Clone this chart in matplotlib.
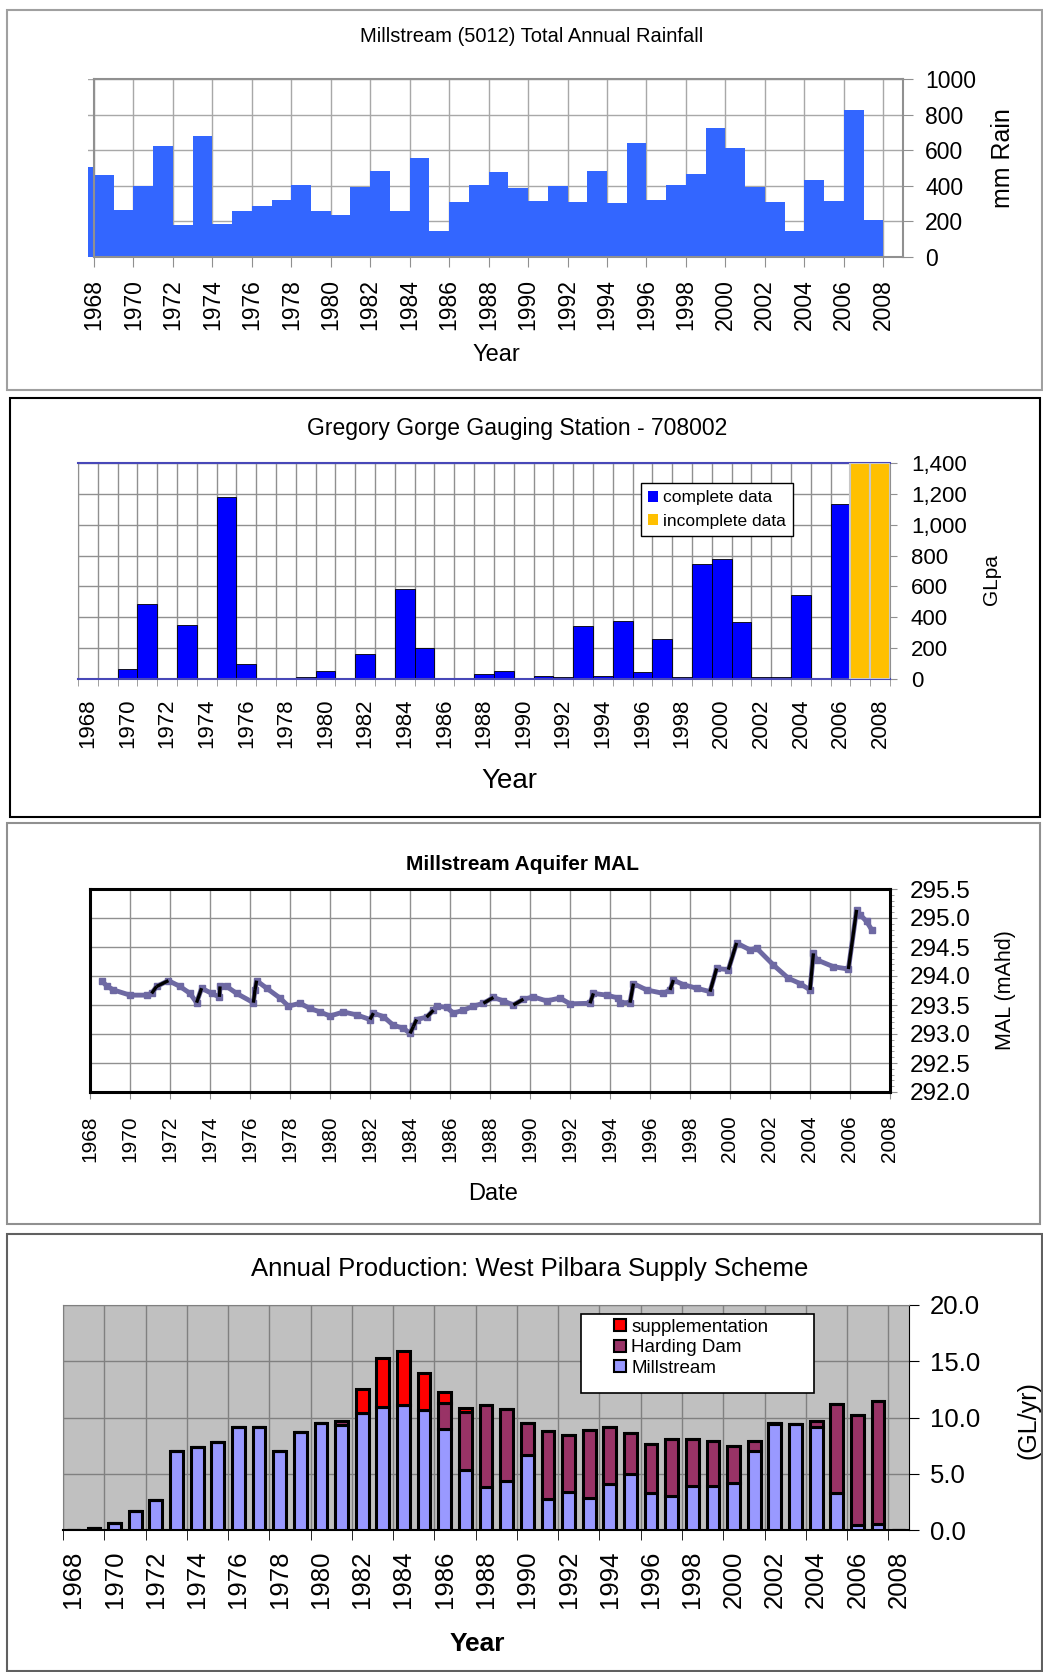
import numpy as np
import matplotlib
matplotlib.use('Agg')
from matplotlib import pyplot as plt
from matplotlib import font_manager
from matplotlib.patches import Rectangle, Patch
from matplotlib.collections import LineCollection
from matplotlib.ticker import FuncFormatter, MultipleLocator

plt.rcParams['font.family'] = ['Liberation Sans', 'DejaVu Sans']

# ---- Millstream (5012) total annual rainfall, mm (first value is the 1967 sliver)
rain_years = list(range(1967, 2008))
rain_mm = [507, 460, 265, 400, 625, 178, 677, 184, 257, 287, 319, 407, 257, 238, 394, 484,
           257, 557, 148, 311, 407, 475, 385, 317, 400, 311, 484, 304, 642, 319, 407, 467,
           722, 610, 394, 311, 148, 432, 317, 826, 206]

# ---- Gregory Gorge gauging station 708002, GLpa
flow_years = list(range(1968, 2009))
flow_gl = [0, 0, 65, 485, 5, 349, 0, 1180, 97, 5, 0, 13, 50, 0, 164, 0, 585, 203, 0, 0,
           32, 50, 0, 22, 13, 343, 22, 373, 47, 259, 13, 746, 779, 371, 13, 13, 544, 5,
           1137, 1400, 1400]
flow_complete = [True] * 39 + [False, False]

# ---- Millstream aquifer MAL, mAHD
mal_date = [1968.58, 1968.83, 1969.17, 1970.0, 1970.83, 1971.08, 1971.33, 1971.92, 1972.5,
            1973.0, 1973.33, 1973.58, 1974.08, 1974.47, 1974.5, 1974.83, 1975.33, 1976.17,
            1976.25, 1976.33, 1976.83, 1977.5, 1977.92, 1978.5, 1979.0, 1979.5, 1980.0,
            1980.67, 1981.33, 1982.0, 1982.17, 1982.67, 1983.17, 1983.67, 1984.0, 1984.17,
            1984.33, 1984.83, 1985.17, 1985.33, 1985.83, 1986.17, 1986.67, 1987.17, 1987.67,
            1988.17, 1988.67, 1989.17, 1989.67, 1990.17, 1990.83, 1991.5, 1992.0, 1993.0,
            1993.17, 1993.83, 1994.42, 1994.5, 1995.0, 1995.17, 1995.83, 1996.67, 1997.0,
            1997.17, 1997.67, 1998.33, 1999.0, 1999.33, 1999.92, 2000.33, 2001.0, 2001.33,
            2002.17, 2002.92, 2003.5, 2004.0, 2004.17, 2004.33, 2005.17, 2005.92, 2006.33,
            2006.5, 2006.83, 2007.08]
mal_level = [293.92, 293.83, 293.76, 293.67, 293.67, 293.70, 293.82, 293.92, 293.82,
             293.70, 293.54, 293.79, 293.70, 293.64, 293.82, 293.82, 293.70, 293.54,
             293.76, 293.92, 293.79, 293.62, 293.48, 293.53, 293.44, 293.38, 293.31,
             293.38, 293.33, 293.25, 293.36, 293.30, 293.15, 293.10, 293.01, 293.13,
             293.25, 293.29, 293.41, 293.48, 293.46, 293.36, 293.41, 293.48, 293.53,
             293.63, 293.57, 293.50, 293.60, 293.64, 293.57, 293.62, 293.52, 293.53,
             293.70, 293.67, 293.62, 293.54, 293.54, 293.87, 293.76, 293.70, 293.76,
             293.93, 293.85, 293.79, 293.73, 294.13, 294.11, 294.57, 294.45, 294.48,
             294.19, 293.96, 293.87, 293.76, 294.39, 294.28, 294.16, 294.12, 295.14,
             295.06, 294.94, 294.80]

# ---- Annual production, West Pilbara supply scheme, GL/yr
prod_years = list(range(1968, 2009))
millstream = [0, 0.18, 0.62, 1.72, 2.67, 7.02, 7.35, 7.85, 9.19, 9.19, 6.99, 8.68, 9.54,
              9.33, 10.37, 10.96, 11.11, 10.67, 8.95, 5.33, 3.85, 4.39, 6.67, 2.73, 3.41,
              2.87, 4.06, 4.95, 3.26, 3.02, 3.91, 3.91, 4.21, 7.05, 9.39, 9.39, 9.19,
              3.26, 0.44, 0.50, 0]
harding = [0, 0, 0, 0, 0, 0, 0, 0, 0, 0, 0, 0, 0, 0.36, 0, 0, 0, 0, 2.37, 5.19, 7.26, 6.37,
           2.87, 6.07, 5.03, 6.02, 5.13, 3.70, 4.35, 5.04, 4.15, 4.00, 3.26, 0.89, 0.15,
           0, 0.50, 7.94, 9.78, 10.97, 0]
supplementation = [0, 0, 0, 0, 0, 0, 0, 0, 0, 0, 0, 0, 0, 0, 2.16, 4.36, 4.80, 3.32, 0.98,
                   0.30, 0, 0, 0, 0, 0, 0, 0, 0, 0, 0, 0, 0, 0, 0, 0, 0, 0, 0, 0, 0, 0]

W, H = 1043, 1672
fig = plt.figure(figsize=(W / 100, H / 100), dpi=100)
fig.patch.set_facecolor('white')

installed = {f.name for f in font_manager.fontManager.ttflist}
has_narrow = 'Liberation Sans Narrow' in installed


def rect(l, t, r, b):
    return [l / W, 1 - b / H, (r - l) / W, (b - t) / H]


def ftext(x, y, s, **kw):
    fig.text(x / W, 1 - y / H, s, ha='center', va='center', **kw)


def frame(l, t, r, b, color):
    fig.patches.append(Rectangle((l / W, 1 - b / H), (r - l) / W, (b - t) / H,
                                 transform=fig.transFigure, fill=False, edgecolor=color, lw=1.5))


frame(7, 10, 1042, 390, '#a0a0a0')
frame(10, 398, 1040, 817, 'black')
frame(7, 823, 1040, 1224, '#909090')
frame(7, 1234, 1042, 1671, '#606060')

# ================= panel 1 : rainfall
ax1 = fig.add_axes(rect(88, 79, 903, 257))
ax1.bar(rain_years, rain_mm, width=1, align='edge', color='#3366FF', zorder=2)
ax1.set_xlim(1967.7, 2009)
ax1.set_ylim(0, 1000)
ax1.spines['left'].set_position(('data', 1968))
ax1.spines['top'].set_bounds(1968, 2009)
ax1.spines['bottom'].set_bounds(1968, 2009)
for s in ax1.spines.values():
    s.set_color('#909090')
    s.set_linewidth(1.5)
ax1.set_xticks(range(1968, 2009, 2))
ax1.set_xticklabels([str(y) for y in range(1968, 2009, 2)], rotation=90)
ax1.set_yticks(range(0, 1001, 200))
ax1.yaxis.tick_right()
ax1.tick_params(axis='both', direction='out', length=7, color='#909090', labelsize=16.5, pad=9)
ax1.tick_params(axis='y', left=False)
ax1.grid(True, color='#a8a8a8', lw=1)
ax1.set_axisbelow(True)
if has_narrow:
    ftext(532, 37, 'Millstream (5012) Total Annual Rainfall', fontsize=16,
          family=['Liberation Sans Narrow', 'Liberation Sans'])
else:
    ftext(532, 37, 'Millstream (5012) Total Annual Rainfall', fontsize=14.5)
ftext(496, 355, 'Year', fontsize=17)
ftext(1003, 158, 'mm Rain', fontsize=18, rotation=90)

# ================= panel 2 : Gregory Gorge
ax2 = fig.add_axes(rect(78, 463, 890, 679))
bar_cols = ['#0000FF' if c else '#FFC000' for c in flow_complete]
bars = ax2.bar(flow_years, flow_gl, width=1, color=bar_cols, edgecolor='black', lw=0.6, zorder=2)
for b, c in zip(bars, flow_complete):
    if not c:
        b.set_edgecolor('#c8c8c8')
        b.set_linewidth(1.5)
        b.set_zorder(4)
ax2.set_xlim(1967.5, 2008.5)
ax2.set_ylim(0, 1400)
ax2.set_xticks(range(1968, 2009, 2))
ax2.set_xticklabels([str(y) for y in range(1968, 2009, 2)], rotation=90)
ax2.set_xticks(np.arange(1967.5, 2009, 1), minor=True)
ax2.set_yticks(range(0, 1401, 200))
ax2.yaxis.set_major_formatter(FuncFormatter(lambda v, p: f'{v:,.0f}'))
ax2.yaxis.tick_right()
ax2.tick_params(axis='x', which='major', length=0, labelsize=16, pad=14)
ax2.tick_params(axis='x', which='minor', length=5, color='#909090')
ax2.tick_params(axis='y', length=5, color='#909090', labelsize=16, pad=10, left=False)
ax2.grid(True, which='minor', axis='x', color='#909090', lw=1)
ax2.grid(True, which='major', axis='y', color='#909090', lw=1)
ax2.set_axisbelow(True)
for k in ['left', 'right']:
    ax2.spines[k].set_color('#909090')
for k in ['top', 'bottom']:
    ax2.spines[k].set_color('#4848b8')
    ax2.spines[k].set_linewidth(1.5)
ax2.legend(handles=[Patch(facecolor='#0000FF', label='complete data'),
                    Patch(facecolor='#FFC000', label='incomplete data')],
           loc='upper left', bbox_to_anchor=(0.693, 0.906), fontsize=12.5, fancybox=False,
           edgecolor='black', framealpha=1, handlelength=0.6, handleheight=0.6,
           handletextpad=0.3, borderpad=0.4, labelspacing=0.5, borderaxespad=0)
ftext(517, 429, 'Gregory Gorge Gauging Station - 708002', fontsize=16.5)
ftext(509, 781, 'Year', fontsize=20)
ftext(992, 580, 'GLpa', fontsize=15, rotation=90)

# ================= panel 3 : MAL
ax3 = fig.add_axes(rect(90, 889, 890, 1092))
yrs = np.array(mal_date)
lvl = np.array(mal_level)
ax3.plot(yrs, lvl, color='#6E69A3', lw=3.5, marker='s', markersize=4.5,
         solid_capstyle='round', zorder=3)
jump = np.diff(lvl) > 0.1
segs = [[(yrs[i], lvl[i]), (yrs[i + 1], lvl[i + 1])] for i in np.where(jump)[0]]
ax3.add_collection(LineCollection(segs, colors='black', linewidths=2.4, zorder=4))
ax3.set_xlim(1968, 2008)
ax3.set_ylim(292, 295.5)
ax3.set_xticks(range(1968, 2009, 2))
ax3.set_xticklabels([str(y) for y in range(1968, 2009, 2)], rotation=90)
ax3.set_yticks(np.arange(292, 295.51, 0.5))
ax3.yaxis.set_major_formatter(FuncFormatter(lambda v, p: f'{v:.1f}'))
ax3.yaxis.set_minor_locator(MultipleLocator(0.1))
ax3.yaxis.tick_right()
ax3.tick_params(axis='x', length=5, color='#909090', labelsize=15, pad=12)
ax3.tick_params(axis='y', which='major', length=5, color='#909090', labelsize=17.5, pad=9)
ax3.tick_params(axis='y', which='minor', length=3, color='#909090')
ax3.grid(True, color='#909090', lw=1)
ax3.set_axisbelow(True)
for s in ax3.spines.values():
    s.set_color('black')
    s.set_linewidth(2.2)
ftext(523, 864, 'Millstream Aquifer MAL', fontsize=15, fontweight='bold')
ftext(493, 1194, 'Date', fontsize=17)
ftext(1005, 990, 'MAL (mAhd)', fontsize=15.5, rotation=90)

# ================= panel 4 : production
ax4 = fig.add_axes(rect(63, 1305, 909, 1530))
ax4.set_facecolor('#C0C0C0')
m = np.array(millstream)
h = np.array(harding)
sp = np.array(supplementation)
bkw = dict(width=0.62, edgecolor='black', linewidth=2.2, zorder=3)
ax4.bar(prod_years, m, color='#9999FF', **bkw)
ax4.bar(prod_years, h, bottom=m, color='#993366', **bkw)
ax4.bar(prod_years, sp, bottom=m + h, color='#FF0000', **bkw)
ax4.set_xlim(1967.5, 2008.5)
ax4.set_ylim(0, 20)
ax4.set_xticks(range(1968, 2009, 2))
ax4.set_xticklabels([str(y) for y in range(1968, 2009, 2)], rotation=90)
ax4.set_xticks(np.arange(1967.5, 2009, 2), minor=True)
ax4.set_yticks(range(0, 21, 5))
ax4.yaxis.set_major_formatter(FuncFormatter(lambda v, p: f'{v:.1f}'))
ax4.yaxis.tick_right()
ax4.tick_params(axis='x', which='major', length=0, labelsize=18.5, pad=15)
ax4.tick_params(axis='x', which='minor', length=7, color='black')
ax4.tick_params(axis='y', length=7, color='black', labelsize=18.5, pad=8, left=False)
ax4.grid(True, which='minor', axis='x', color='#808080', lw=1)
ax4.grid(True, which='major', axis='y', color='#808080', lw=1)
ax4.set_axisbelow(True)
ax4.spines['top'].set_color('#808080')
ax4.spines['left'].set_color('#808080')
ax4.spines['bottom'].set_linewidth(1.5)
# legend box drawn wider than its contents, as in the original
ax4.add_patch(Rectangle((0.612, 0.61), 0.276, 0.35, transform=ax4.transAxes,
                        facecolor='white', edgecolor='black', lw=1.2, zorder=5))
leg = ax4.legend(handles=[Patch(facecolor='#FF0000', edgecolor='black', lw=1.5, label='supplementation'),
                          Patch(facecolor='#993366', edgecolor='black', lw=1.5, label='Harding Dam'),
                          Patch(facecolor='#9999FF', edgecolor='black', lw=1.5, label='Millstream')],
                 loc='upper left', bbox_to_anchor=(0.645, 0.965), fontsize=13.5, frameon=False,
                 handlelength=0.6, handleheight=0.6, handletextpad=0.3, borderpad=0.3,
                 labelspacing=0.2, borderaxespad=0)
leg.set_zorder(6)
ftext(530, 1269, 'Annual Production: West Pilbara Supply Scheme', fontsize=18.5)
ftext(477, 1644, 'Year', fontsize=19, fontweight='bold')
ftext(1029, 1420, '(GL/yr)', fontsize=18, rotation=90)

fig.savefig('out.png', dpi=100)
